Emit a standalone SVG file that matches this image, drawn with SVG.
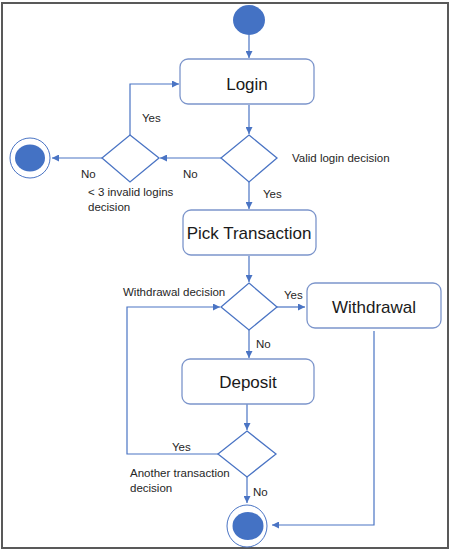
<svg xmlns="http://www.w3.org/2000/svg" width="452" height="553" viewBox="0 0 452 553">
<defs>
<style>
.box{fill:#fff;stroke:#7C95CB;stroke-width:1.3}
.dia{fill:#fff;stroke:#4A74C4;stroke-width:1.3}
.line{fill:none;stroke:#4A74C4;stroke-width:1.2}
.dot{fill:#4472C4}
.ring{fill:#fff;stroke:#4A74C4;stroke-width:1}
.big{font-family:"Liberation Sans",Arial,sans-serif;font-size:17px;fill:#1a1a1a;text-anchor:middle}
.lab{font-family:"Liberation Sans",Arial,sans-serif;font-size:11.5px;fill:#262626}
</style>
<marker id="arr" viewBox="0 0 10 10" refX="10" refY="5" markerWidth="7" markerHeight="7" markerUnits="userSpaceOnUse" orient="auto">
<path d="M0,0 L10,5 L0,10 z" fill="#4A74C4"/>
</marker>
</defs>
<rect x="0" y="0" width="452" height="553" fill="#fff"/>
<rect x="2" y="3" width="446" height="545" fill="none" stroke="#595959" stroke-width="2"/>

<g id="connectors">
<path class="line" d="M249,35 V58" marker-end="url(#arr)"/>
<path class="line" d="M249,105 V134" marker-end="url(#arr)"/>
<path class="line" d="M221,158 H160" marker-end="url(#arr)"/>
<path class="line" d="M130,135 V84 H179" marker-end="url(#arr)"/>
<path class="line" d="M102,158 H52" marker-end="url(#arr)"/>
<path class="line" d="M249,182 V209" marker-end="url(#arr)"/>
<path class="line" d="M249,256 V282" marker-end="url(#arr)"/>
<path class="line" d="M277,307 H305" marker-end="url(#arr)"/>
<path class="line" d="M249,330 V358" marker-end="url(#arr)"/>
<path class="line" d="M247,404 V430" marker-end="url(#arr)"/>
<path class="line" d="M218,454 H127 V307 H220" marker-end="url(#arr)"/>
<path class="line" d="M247,477 V503" marker-end="url(#arr)"/>
<path class="line" d="M374,331 V525 H272" marker-end="url(#arr)"/>
</g>

<g id="start"><ellipse class="dot" cx="249" cy="20" rx="16" ry="15"/></g>

<g id="login"><rect class="box" x="180" y="59" width="134" height="45" rx="8"/><text class="big" x="247" y="90">Login</text></g>

<g id="valid-login-decision"><polygon class="dia" points="249,135 277,158 249,182 221,158"/><text class="lab" x="292" y="162">Valid login decision</text></g>

<g id="invalid-logins-decision"><polygon class="dia" points="130,135 159,158 130,182 102,158"/><text class="lab" x="88" y="196">&lt; 3 invalid logins</text><text class="lab" x="88" y="211">decision</text></g>

<g id="end-top"><ellipse class="ring" cx="30" cy="158" rx="20" ry="20"/><ellipse class="dot" cx="30" cy="158" rx="15" ry="13.5"/></g>

<g id="pick-transaction"><rect class="box" x="183" y="210" width="133" height="45" rx="8"/><text class="big" x="249" y="239">Pick Transaction</text></g>

<g id="withdrawal-decision"><polygon class="dia" points="249,283 277,307 249,330 221,307"/><text class="lab" x="123" y="296">Withdrawal decision</text></g>

<g id="withdrawal"><rect class="box" x="307" y="283" width="134" height="45" rx="8"/><text class="big" x="374" y="313">Withdrawal</text></g>

<g id="deposit"><rect class="box" x="182" y="359" width="132" height="45" rx="8"/><text class="big" x="248" y="388">Deposit</text></g>

<g id="another-transaction-decision"><polygon class="dia" points="247,431 276,454 247,477 218,454"/><text class="lab" x="130" y="477">Another transaction</text><text class="lab" x="130" y="492">decision</text></g>

<g id="end-bottom"><ellipse class="ring" cx="247" cy="526" rx="20" ry="21"/><ellipse class="dot" cx="248" cy="526" rx="15.5" ry="14"/></g>

<g id="labels">
<text class="lab" x="142" y="122">Yes</text>
<text class="lab" x="183" y="178">No</text>
<text class="lab" x="81" y="178">No</text>
<text class="lab" x="263" y="198">Yes</text>
<text class="lab" x="284" y="299">Yes</text>
<text class="lab" x="256" y="348">No</text>
<text class="lab" x="172" y="451">Yes</text>
<text class="lab" x="253" y="496">No</text>
</g>
</svg>
